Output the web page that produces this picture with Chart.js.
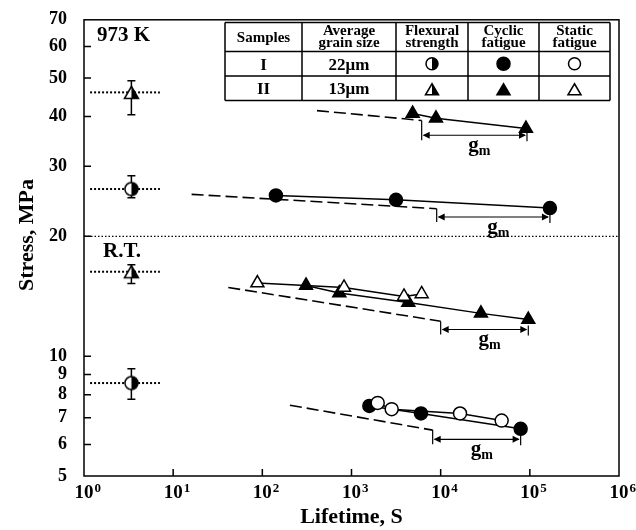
<!DOCTYPE html>
<html><head><meta charset="utf-8">
<script src="https://cdn.jsdelivr.net/npm/chart.js@4.4.0/dist/chart.umd.min.js"></script>
<style>html,body{margin:0;padding:0;background:#fff}#wrap{width:636px;height:530px}</style>
</head><body><div id="wrap"><canvas id="c" width="636" height="530"></canvas></div>
<script>
// ---------------- data ----------------
const xTicks = [1, 10, 100, 1000, 10000, 100000, 1000000];
const xExponents = ['0', '1', '2', '3', '4', '5', '6'];
const yTicks = [5, 6, 7, 8, 9, 10, 20, 30, 40, 50, 60, 70];

// 973 K
const hotIICyclicX = [4850, 8860, 90500];
const hotIICyclicY = [40.7, 39.6, 37.3];
const hotICyclicX = [142, 3155, 168000];
const hotICyclicY = [25.35, 24.7, 23.56];
// Room temperature
const rtIIStaticX = [88, 824, 3880, 6120];
const rtIIStaticY = [15.26, 14.88, 14.13, 14.33];
const rtIICyclicX = [309, 730, 4335, 28300, 96100];
const rtIICyclicY = [15.06, 14.41, 13.65, 12.81, 12.36];
const rtICyclicX = [1585, 6015, 78900];
const rtICyclicY = [7.50, 7.18, 6.57];
const rtIStaticX = [1967, 2823, 16480, 48300];
const rtIStaticY = [7.63, 7.36, 7.18, 6.89];

// Flexural strength (order: 973K-II, 973K-I, RT-II, RT-I)
const flexX = 3.4;
const flexMean = [46.0, 26.3, 16.3, 8.56];
const flexHigh = [49.2, 28.4, 16.96, 9.30];
const flexLow = [40.4, 25.0, 15.23, 7.80];
const flexLineX = [1.17, 7.1];

// predicted (dashed) lines and g_m arrows (order: 973K-II, 973K-I, RT-II, RT-I)
const dashStartX = [410, 16.1, 41.5, 204];
const dashStartY = [41.4, 25.5, 14.88, 7.53];
const dashEndX = [6124, 9025, 10000, 8135];
const dashEndY = [39.1, 23.47, 12.24, 6.52];
const gmEndX = [92900, 168000, 96100, 78900];
const gmArrowY = [35.9, 22.37, 11.67, 6.18];
const boundaryStress = 20;

const tableHeader = [['Samples'], ['Average', 'grain size'], ['Flexural', 'strength'], ['Cyclic', 'fatigue'], ['Static', 'fatigue']];
const tableSamples = ['I', 'II'];
const tableGrain = ['22\u03bcm', '13\u03bcm'];

// ---------------- helpers ----------------
const FONT = '"Liberation Serif", "Times New Roman", serif';
const pts = (xs, ys) => xs.map((x, i) => ({ x: x, y: ys[i] }));

function drawHalfCircle(ctx, cx, cy, r) {
  ctx.save();
  ctx.beginPath(); ctx.arc(cx, cy, r, 0, Math.PI * 2); ctx.fillStyle = '#fff'; ctx.fill();
  ctx.beginPath(); ctx.moveTo(cx, cy - r); ctx.arc(cx, cy, r, -Math.PI / 2, Math.PI / 2); ctx.closePath();
  ctx.fillStyle = '#000'; ctx.fill();
  ctx.beginPath(); ctx.arc(cx, cy, r, 0, Math.PI * 2); ctx.lineWidth = 1.5; ctx.strokeStyle = '#000'; ctx.stroke();
  ctx.restore();
}
function drawTri(ctx, cx, cy, w, h, mode) {
  const top = cy - h / 2, bot = cy + h / 2;
  ctx.save();
  ctx.beginPath(); ctx.moveTo(cx, top); ctx.lineTo(cx + w / 2, bot); ctx.lineTo(cx - w / 2, bot); ctx.closePath();
  ctx.fillStyle = mode === 'filled' ? '#000' : '#fff'; ctx.fill();
  if (mode === 'half') {
    ctx.beginPath(); ctx.moveTo(cx, top); ctx.lineTo(cx + w / 2, bot); ctx.lineTo(cx, bot); ctx.closePath();
    ctx.fillStyle = '#000'; ctx.fill();
  }
  ctx.beginPath(); ctx.moveTo(cx, top); ctx.lineTo(cx + w / 2, bot); ctx.lineTo(cx - w / 2, bot); ctx.closePath();
  ctx.lineWidth = 1.5; ctx.lineJoin = 'miter'; ctx.strokeStyle = '#000'; ctx.stroke();
  ctx.restore();
}
function drawCircle(ctx, cx, cy, r, filled) {
  ctx.save();
  ctx.beginPath(); ctx.arc(cx, cy, r, 0, Math.PI * 2);
  ctx.fillStyle = filled ? '#000' : '#fff'; ctx.fill();
  ctx.lineWidth = 1.5; ctx.strokeStyle = '#000'; ctx.stroke();
  ctx.restore();
}
function makeImg(w, h, fn) {
  const c = document.createElement('canvas'); c.width = w; c.height = h;
  fn(c.getContext('2d')); return c;
}
const halfCircleImg = makeImg(17, 17, ctx => drawHalfCircle(ctx, 8.5, 8.5, 6.5));
const halfTriImg = makeImg(19, 17, ctx => drawTri(ctx, 9.5, 8.5, 14, 12, 'half'));

// ---------------- datasets ----------------
const lineBase = { showLine: true, borderColor: '#000', borderWidth: 1.5, pointBorderColor: '#000', pointBorderWidth: 1.5 };
const datasets = [];
// flexural points (drawn on top)
datasets.push({ data: [{ x: flexX, y: flexMean[0] }], pointStyle: halfTriImg, showLine: false });
datasets.push({ data: [{ x: flexX, y: flexMean[1] }], pointStyle: halfCircleImg, showLine: false });
datasets.push({ data: [{ x: flexX, y: flexMean[2] }], pointStyle: halfTriImg, showLine: false });
datasets.push({ data: [{ x: flexX, y: flexMean[3] }], pointStyle: halfCircleImg, showLine: false });
// fatigue data
datasets.push(Object.assign({ data: pts(hotIICyclicX, hotIICyclicY), pointStyle: 'triangle', pointRadius: 7.5, pointBackgroundColor: '#000' }, lineBase));
datasets.push(Object.assign({ data: pts(hotICyclicX, hotICyclicY), pointStyle: 'circle', pointRadius: 6.5, pointBackgroundColor: '#000' }, lineBase));
datasets.push(Object.assign({ data: pts(rtIIStaticX, rtIIStaticY), pointStyle: 'triangle', pointRadius: 7.5, pointBackgroundColor: '#fff' }, lineBase));
datasets.push(Object.assign({ data: pts(rtIICyclicX, rtIICyclicY), pointStyle: 'triangle', pointRadius: 7.5, pointBackgroundColor: '#000' }, lineBase));
datasets.push(Object.assign({ data: pts(rtIStaticX, rtIStaticY), pointStyle: 'circle', pointRadius: 6.5, pointBackgroundColor: '#fff' }, lineBase));
datasets.push(Object.assign({ data: pts(rtICyclicX, rtICyclicY), pointStyle: 'circle', pointRadius: 6.5, pointBackgroundColor: '#000' }, lineBase));
// dashed predicted lines
for (let i = 0; i < dashStartX.length; i++) {
  datasets.push({ data: [{ x: dashStartX[i], y: dashStartY[i] }, { x: dashEndX[i], y: dashEndY[i] }],
    showLine: true, borderColor: '#000', borderWidth: 1.6, borderDash: [12, 5], pointRadius: 0 });
}
// dotted flexural levels
for (let i = 0; i < flexMean.length; i++) {
  datasets.push({ data: flexLineX.map(x => ({ x: x, y: flexMean[i] })),
    showLine: true, borderColor: '#000', borderWidth: 2, borderDash: [2, 2], pointRadius: 0 });
}
// 20 MPa boundary line
datasets.push({ data: [{ x: xTicks[0], y: boundaryStress }, { x: xTicks[xTicks.length - 1], y: boundaryStress }],
  showLine: true, borderColor: '#000', borderWidth: 1.4, borderDash: [1.5, 2], pointRadius: 0 });

// ---------------- plugin ----------------
const decor = {
  id: 'decor',
  beforeDatasetsDraw(chart) {
    const ctx = chart.ctx, xs = chart.scales.x, ys = chart.scales.y;
    ctx.save(); ctx.strokeStyle = '#000'; ctx.lineWidth = 1.5;
    for (let i = 0; i < flexMean.length; i++) {
      const px = xs.getPixelForValue(flexX), hi = ys.getPixelForValue(flexHigh[i]), lo = ys.getPixelForValue(flexLow[i]);
      ctx.beginPath(); ctx.moveTo(px, hi); ctx.lineTo(px, lo);
      ctx.moveTo(px - 4, hi); ctx.lineTo(px + 4, hi); ctx.moveTo(px - 4, lo); ctx.lineTo(px + 4, lo); ctx.stroke();
    }
    ctx.restore();
  },
  afterDraw(chart) {
    const ctx = chart.ctx, xs = chart.scales.x, ys = chart.scales.y, a = chart.chartArea;
    ctx.save();
    ctx.strokeStyle = '#000'; ctx.fillStyle = '#000';
    // g_m arrows
    for (let i = 0; i < gmEndX.length; i++) {
      const x0 = xs.getPixelForValue(dashEndX[i]), x1 = xs.getPixelForValue(gmEndX[i]);
      const yA = ys.getPixelForValue(gmArrowY[i]), yD = ys.getPixelForValue(dashEndY[i]);
      ctx.lineWidth = 1.2;
      ctx.beginPath(); ctx.moveTo(x0, yD); ctx.lineTo(x0, yA + 5);
      ctx.moveTo(x1, yA - 4); ctx.lineTo(x1, yA + 6);
      ctx.moveTo(x0 + 2, yA); ctx.lineTo(x1 - 2, yA); ctx.stroke();
      ctx.beginPath(); ctx.moveTo(x0 + 1, yA); ctx.lineTo(x0 + 8, yA - 3.5); ctx.lineTo(x0 + 8, yA + 3.5); ctx.closePath(); ctx.fill();
      ctx.beginPath(); ctx.moveTo(x1 - 1, yA); ctx.lineTo(x1 - 8, yA - 3.5); ctx.lineTo(x1 - 8, yA + 3.5); ctx.closePath(); ctx.fill();
      const mid = (x0 + x1) / 2;
      ctx.font = 'bold 21px ' + FONT; ctx.textAlign = 'left'; ctx.textBaseline = 'alphabetic';
      const gw = ctx.measureText('g').width;
      ctx.fillText('g', mid - 6, yA + 16);
      ctx.font = 'bold 14px ' + FONT;
      ctx.fillText('m', mid - 6 + gw, yA + 20);
    }
    // frame
    ctx.lineWidth = 1.5;
    ctx.strokeRect(a.left, a.top, a.right - a.left, a.bottom - a.top);
    // inner ticks
    ctx.beginPath();
    yTicks.forEach(v => { if (v !== yTicks[0] && v !== yTicks[yTicks.length - 1]) { const p = ys.getPixelForValue(v); ctx.moveTo(a.left, p); ctx.lineTo(a.left + 7, p); } });
    xTicks.forEach(v => { if (v !== xTicks[0] && v !== xTicks[xTicks.length - 1]) { const p = xs.getPixelForValue(v); ctx.moveTo(p, a.bottom); ctx.lineTo(p, a.bottom - 7); } });
    ctx.stroke();
    // x tick labels 10^n
    xTicks.forEach((v, i) => {
      const p = xs.getPixelForValue(v);
      ctx.font = 'bold 19px ' + FONT; ctx.textAlign = 'center'; ctx.textBaseline = 'alphabetic';
      const w = ctx.measureText('10').width;
      ctx.fillText('10', p, a.bottom + 22);
      ctx.font = 'bold 13px ' + FONT; ctx.textAlign = 'left';
      ctx.fillText(xExponents[i], p + w / 2 + 1, a.bottom + 16);
    });
    // axis titles
    ctx.font = 'bold 22px ' + FONT; ctx.textAlign = 'center'; ctx.textBaseline = 'middle';
    ctx.fillText('Lifetime, S', (a.left + a.right) / 2, 517);
    ctx.save(); ctx.translate(27, 235); ctx.rotate(-Math.PI / 2); ctx.fillText('Stress, MPa', 0, 0); ctx.restore();
    // annotations
    ctx.font = 'bold 21px ' + FONT; ctx.textAlign = 'left'; ctx.textBaseline = 'alphabetic';
    ctx.fillText('973 K', 97, 41);
    ctx.fillText('R.T.', 103, 257);
    // table
    const colX = [225, 302, 396, 468, 539, 610];
    const rowY = [22.5, 51.5, 76, 100.5];
    ctx.fillStyle = '#fff'; ctx.fillRect(colX[0], rowY[0], colX[5] - colX[0], rowY[3] - rowY[0]); ctx.fillStyle = '#000';
    ctx.lineWidth = 1.5; ctx.beginPath();
    colX.forEach(x => { ctx.moveTo(x, rowY[0]); ctx.lineTo(x, rowY[3]); });
    rowY.forEach(y => { ctx.moveTo(colX[0], y); ctx.lineTo(colX[5], y); });
    ctx.stroke();
    const cx = c => (colX[c] + colX[c + 1]) / 2;
    ctx.textAlign = 'center'; ctx.font = 'bold 15px ' + FONT;
    tableHeader.forEach((lines, c) => {
      if (lines.length === 1) ctx.fillText(lines[0], cx(c), 42);
      else { ctx.fillText(lines[0], cx(c), 34.5); ctx.fillText(lines[1], cx(c), 47); }
    });
    ctx.font = 'bold 17px ' + FONT;
    tableSamples.forEach((s, r) => ctx.fillText(s, cx(0), rowY[r + 1] + 18));
    tableGrain.forEach((s, r) => ctx.fillText(s, cx(1), rowY[r + 1] + 18));
    const r1 = (rowY[1] + rowY[2]) / 2, r2 = (rowY[2] + rowY[3]) / 2;
    drawHalfCircle(ctx, cx(2), r1, 6);
    drawCircle(ctx, cx(3), r1, 6.5, true);
    drawCircle(ctx, cx(4), r1, 6, false);
    drawTri(ctx, cx(2), r2 + 1, 13, 11, 'half');
    drawTri(ctx, cx(3), r2 + 1, 13, 11, 'filled');
    drawTri(ctx, cx(4), r2 + 1, 13, 11, 'open');
    ctx.restore();
  }
};

new Chart(document.getElementById('c'), {
  type: 'scatter',
  data: { datasets: datasets },
  options: {
    responsive: false, animation: false, devicePixelRatio: 1,
    layout: { padding: { top: 18, right: 17, left: 0, bottom: 0 } },
    plugins: { legend: { display: false }, tooltip: { enabled: false } },
    elements: { line: { tension: 0 } },
    scales: {
      x: {
        type: 'logarithmic', min: xTicks[0], max: xTicks[xTicks.length - 1],
        grid: { display: false }, border: { display: false },
        ticks: { display: false },
        afterBuildTicks: s => { s.ticks = xTicks.map(v => ({ value: v })); },
        afterFit: s => { s.height = 54; }
      },
      y: {
        type: 'logarithmic', min: yTicks[0], max: yTicks[yTicks.length - 1],
        grid: { display: false }, border: { display: false },
        ticks: { color: '#000', font: { family: FONT, size: 18, weight: 'bold' }, padding: 9, autoSkip: false,
          callback: v => String(v) },
        afterBuildTicks: s => { s.ticks = yTicks.map(v => ({ value: v })); },
        afterFit: s => { s.width = 84; }
      }
    }
  },
  plugins: [decor]
});
</script>
</body></html>
